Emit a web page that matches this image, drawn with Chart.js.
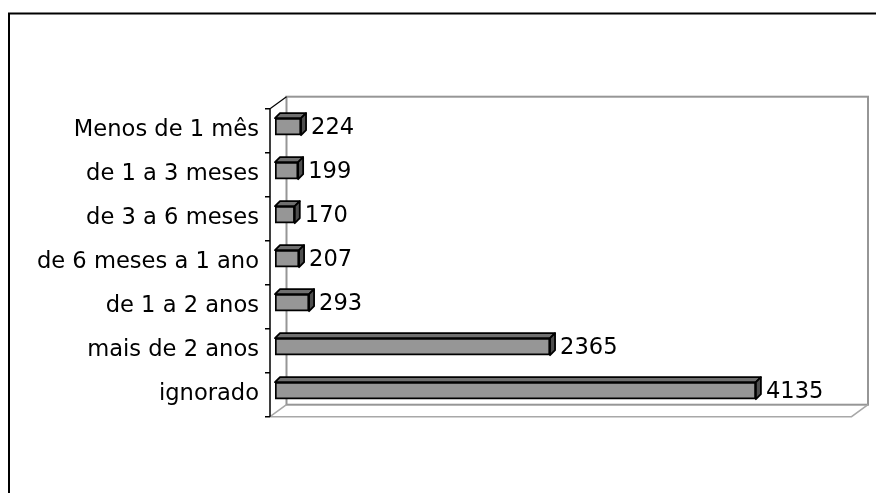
<!DOCTYPE html>
<html>
<head>
<meta charset="utf-8">
<script src="https://cdn.jsdelivr.net/npm/chart.js@4/dist/chart.umd.min.js"></script>
<style>
  html, body { margin: 0; padding: 0; background: #ffffff; }
  #wrap { width: 876px; height: 493px; position: relative; }
  canvas { display: block; }
</style>
</head>
<body>
<div id="wrap"><canvas id="c" width="876" height="493"></canvas></div>
<script>
const categories = [
  "Menos de 1 mês",
  "de 1 a 3 meses",
  "de 3 a 6 meses",
  "de 6 meses a 1 ano",
  "de 1 a 2 anos",
  "mais de 2 anos",
  "ignorado"
];
const values = [224, 199, 170, 207, 293, 2365, 4135];
const axisMin = 0;
const axisMax = 5000;

const FONT = "'DejaVu Sans', Verdana, sans-serif";
const FONT_SIZE = 22.6;
const DEPTH_X = 5, DEPTH_Y = 5;       // bar 3D depth
const WALL_DX = 16.5, WALL_DY = 12;   // back wall depth
const FRONT_DX = -5, FRONT_DY = 4;    // front plane relative to bars

const frame3d = {
  id: 'frame3d',
  beforeDatasetsDraw(chart) {
    const ctx = chart.ctx;
    const ca = chart.chartArea;
    const fx0 = ca.left + FRONT_DX, fx1 = ca.right + FRONT_DX;
    const fy0 = ca.top + FRONT_DY, fy1 = ca.bottom + FRONT_DY;
    const wx0 = fx0 + WALL_DX, wx1 = fx1 + WALL_DX;
    const wy0 = fy0 - WALL_DY, wy1 = fy1 - WALL_DY;
    ctx.save();
    // outer frame
    ctx.strokeStyle = '#000';
    ctx.lineWidth = 2;
    ctx.strokeRect(9, 13.5, 1000, 600);
    // back wall
    ctx.strokeStyle = '#969696';
    ctx.lineWidth = 2;
    ctx.strokeRect(wx0, wy0, wx1 - wx0, wy1 - wy0);
    // floor
    ctx.strokeStyle = '#a8a8a8';
    ctx.lineWidth = 1.5;
    ctx.beginPath();
    ctx.moveTo(fx0, fy1);
    ctx.lineTo(fx1, fy1);
    ctx.lineTo(wx1, wy1);
    ctx.moveTo(fx0, fy1);
    ctx.lineTo(wx0, wy1);
    ctx.stroke();
    // side wall top edge
    ctx.strokeStyle = '#000';
    ctx.lineWidth = 1.2;
    ctx.beginPath();
    ctx.moveTo(fx0, fy0);
    ctx.lineTo(wx0, wy0);
    ctx.stroke();
    // category axis line and ticks
    ctx.lineWidth = 1.5;
    ctx.beginPath();
    ctx.moveTo(fx0, fy0);
    ctx.lineTo(fx0, fy1);
    const n = categories.length;
    const step = (fy1 - fy0) / n;
    for (let i = 0; i <= n; i++) {
      const y = fy0 + step * i;
      ctx.moveTo(fx0 - 5, y);
      ctx.lineTo(fx0, y);
    }
    ctx.stroke();
    ctx.restore();
  },
  afterDatasetsDraw(chart) {
    const ctx = chart.ctx;
    const meta = chart.getDatasetMeta(0);
    ctx.save();
    meta.data.forEach((bar, i) => {
      const p = bar.getProps(['x', 'y', 'base', 'height'], true);
      const top = p.y - p.height / 2;
      const bottom = p.y + p.height / 2;
      const x0 = p.base, x1 = p.x;
      ctx.lineWidth = 1.8;
      ctx.strokeStyle = '#000';
      ctx.lineJoin = 'round';
      // top face
      ctx.fillStyle = '#707070';
      ctx.beginPath();
      ctx.moveTo(x0, top);
      ctx.lineTo(x0 + DEPTH_X, top - DEPTH_Y);
      ctx.lineTo(x1 + DEPTH_X, top - DEPTH_Y);
      ctx.lineTo(x1, top);
      ctx.closePath();
      ctx.fill();
      ctx.stroke();
      // side face
      ctx.fillStyle = '#4e4e4e';
      ctx.beginPath();
      ctx.moveTo(x1, top);
      ctx.lineTo(x1 + DEPTH_X, top - DEPTH_Y);
      ctx.lineTo(x1 + DEPTH_X, bottom - DEPTH_Y);
      ctx.lineTo(x1, bottom);
      ctx.closePath();
      ctx.fill();
      ctx.stroke();
      // value label
      ctx.fillStyle = '#000';
      ctx.font = FONT_SIZE + 'px ' + FONT;
      ctx.textAlign = 'left';
      ctx.textBaseline = 'middle';
      ctx.fillText(String(values[i]), x1 + DEPTH_X + 5, p.y + 1);
    });
    ctx.restore();
  }
};

new Chart(document.getElementById('c'), {
  type: 'bar',
  data: {
    labels: categories,
    datasets: [{
      data: values,
      backgroundColor: '#969696',
      borderColor: '#000',
      borderWidth: 2,
      borderSkipped: false,
      barThickness: 17
    }]
  },
  options: {
    indexAxis: 'y',
    responsive: false,
    animation: false,
    layout: { padding: { left: 0, right: 19.5, top: 104.7, bottom: 80.3 } },
    plugins: {
      legend: { display: false },
      tooltip: { enabled: false }
    },
    scales: {
      x: {
        display: false,
        min: axisMin,
        max: axisMax
      },
      y: {
        grid: { display: false, drawTicks: false },
        border: { display: false },
        ticks: {
          color: '#000',
          font: { family: FONT, size: FONT_SIZE },
          padding: 16,
          labelOffset: 3
        },
        afterFit(scale) { scale.width = 275; }
      }
    }
  },
  plugins: [frame3d]
});
</script>
</body>
</html>
